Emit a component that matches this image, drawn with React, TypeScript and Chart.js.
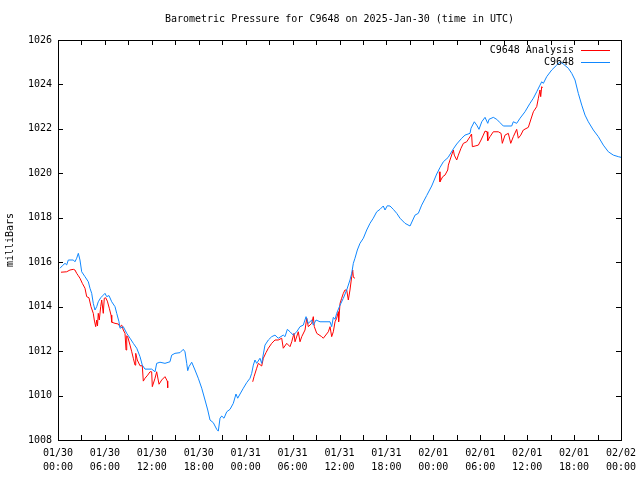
import React, { useEffect, useRef } from 'react';
import { Chart, registerables } from 'chart.js';

Chart.register(...registerables);

const TITLE = 'Barometric Pressure for C9648 on 2025-Jan-30 (time in UTC)';
const Y_TITLE = 'milliBars';
const FONT = '"DejaVu Sans Mono", "Liberation Mono", monospace';

const xTickDates = ['01/30', '01/30', '01/30', '01/30', '01/31', '01/31', '01/31', '01/31', '02/01', '02/01', '02/01', '02/01', '02/02'];
const xTickTimes = ['00:00', '06:00', '12:00', '18:00', '00:00', '06:00', '12:00', '18:00', '00:00', '06:00', '12:00', '18:00', '00:00'];

// hours since 2025-01-30 00:00 UTC
const stationHours = [
  0.26, 0.55, 0.90, 1.11, 1.32, 1.96, 2.17, 2.39, 2.60, 2.81,
  3.03, 3.45, 3.88, 4.09, 4.31, 4.51, 4.73, 4.95, 5.15, 5.46,
  5.79, 6.01, 6.23, 6.52, 6.87, 7.29, 7.51, 7.80, 7.93, 8.35,
  8.79, 9.21, 9.63, 10.07, 10.49, 10.78, 11.13, 11.98, 12.41, 12.62,
  13.04, 13.68, 14.32, 14.54, 14.96, 15.60, 16.02, 16.24, 16.46, 16.59,
  16.75, 17.10, 17.52, 17.94, 18.38, 18.80, 19.15, 19.44, 19.86, 20.08,
  20.30, 20.50, 20.72, 20.94, 21.23, 21.58, 22.00, 22.42, 22.76, 22.98,
  23.28, 23.70, 24.13, 24.56, 24.77, 24.98, 25.19, 25.41, 25.83, 26.05,
  26.47, 26.90, 27.33, 27.75, 28.17, 28.81, 29.03, 29.33, 29.67, 30.09,
  30.53, 30.95, 31.37, 31.72, 32.01, 32.45, 32.65, 33.00, 33.51, 34.79,
  35.00, 35.21, 35.43, 35.64, 36.07, 36.49, 36.92, 37.34, 37.56, 37.77,
  37.98, 38.28, 38.62, 39.05, 39.48, 39.90, 40.32, 40.76, 41.18, 41.60,
  41.82, 42.11, 42.46, 42.88, 43.32, 43.74, 44.38, 45.02, 45.66, 46.08,
  46.51, 47.15, 47.79, 48.43, 48.85, 49.28, 49.88, 50.56, 50.99, 51.63,
  52.05, 52.69, 52.82, 53.24, 53.55, 53.84, 54.19, 54.61, 54.96, 55.12,
  55.67, 56.11, 56.53, 56.95, 58.02, 58.23, 58.66, 59.09, 59.72, 60.36,
  60.79, 61.22, 61.64, 61.86, 62.07, 62.50, 63.14, 63.78, 64.20, 64.62,
  65.26, 65.70, 66.12, 66.54, 66.98, 67.40, 67.82, 68.46, 69.10, 69.74,
  70.38, 71.02, 71.66, 72.00,
];
const stationValues = [
  1015.73, 1015.84, 1015.95, 1015.88, 1016.10, 1016.10, 1016.02, 1016.18, 1016.40, 1016.10,
  1015.57, 1015.35, 1015.12, 1014.83, 1014.60, 1014.15, 1013.85, 1014.00, 1014.22, 1014.40,
  1014.52, 1014.60, 1014.45, 1014.50, 1014.22, 1014.00, 1013.70, 1013.32, 1013.03, 1013.10,
  1012.80, 1012.58, 1012.35, 1012.13, 1011.75, 1011.37, 1011.19, 1011.19, 1011.07, 1011.45,
  1011.50, 1011.45, 1011.52, 1011.82, 1011.90, 1011.93, 1012.08, 1011.97, 1011.45, 1011.12,
  1011.30, 1011.50, 1011.15, 1010.78, 1010.33, 1009.80, 1009.35, 1008.90, 1008.78, 1008.63,
  1008.48, 1008.40, 1008.98, 1009.08, 1008.98, 1009.27, 1009.38, 1009.65, 1010.07, 1009.88,
  1010.07, 1010.33, 1010.58, 1010.78, 1011.00, 1011.37, 1011.60, 1011.45, 1011.68, 1011.45,
  1012.27, 1012.50, 1012.65, 1012.72, 1012.58, 1012.72, 1012.65, 1012.98, 1012.87, 1012.72,
  1012.87, 1013.10, 1013.17, 1013.55, 1013.25, 1013.40, 1013.17, 1013.40, 1013.32, 1013.32,
  1013.10, 1013.52, 1013.43, 1013.70, 1014.07, 1014.38, 1014.75, 1015.20, 1015.50, 1015.95,
  1016.18, 1016.55, 1016.85, 1017.08, 1017.45, 1017.75, 1017.98, 1018.27, 1018.38, 1018.53,
  1018.35, 1018.54, 1018.53, 1018.38, 1018.20, 1017.98, 1017.75, 1017.63, 1018.12, 1018.20,
  1018.57, 1019.00, 1019.43, 1019.97, 1020.26, 1020.52, 1020.71, 1021.10, 1021.32, 1021.58,
  1021.72, 1021.80, 1022.03, 1022.32, 1022.17, 1021.98, 1022.32, 1022.52, 1022.25, 1022.43,
  1022.52, 1022.43, 1022.28, 1022.13, 1022.13, 1022.32, 1022.25, 1022.48, 1022.77, 1023.15,
  1023.38, 1023.67, 1023.97, 1024.12, 1024.05, 1024.35, 1024.65, 1024.87, 1025.02, 1024.92,
  1024.73, 1024.50, 1024.20, 1023.60, 1023.07, 1022.62, 1022.32, 1021.95, 1021.65, 1021.27,
  1020.97, 1020.82, 1020.75, 1020.72,
];

const analysisHours1 = [
  0.38, 1.11, 1.53, 1.96, 2.17, 2.39, 2.60, 2.81, 3.11, 3.45,
  3.67, 3.96, 4.22, 4.51, 4.64, 4.82, 4.95, 5.05, 5.15, 5.28,
  5.46, 5.59, 5.79, 5.92, 6.10, 6.31, 6.56, 6.78, 6.87, 7.29,
  7.71, 7.93, 8.15, 8.35, 8.57, 8.70, 8.79, 8.91, 9.21, 9.43,
  9.63, 9.85, 9.94, 10.14, 10.49, 10.78, 10.91, 11.13, 11.47, 11.77,
  11.98, 12.06, 12.41, 12.62, 12.92, 13.26, 13.68, 13.98, 14.03,
];
const analysisValues1 = [
  1015.55, 1015.57, 1015.65, 1015.68, 1015.65, 1015.50, 1015.39, 1015.28, 1015.05, 1014.83,
  1014.45, 1014.40, 1014.00, 1013.70, 1013.40, 1013.10, 1013.40, 1013.13, 1013.70, 1013.40,
  1014.00, 1014.30, 1013.70, 1014.38, 1014.40, 1014.25, 1013.93, 1013.62, 1013.30, 1013.25,
  1013.22, 1013.10, 1013.17, 1012.95, 1012.80, 1012.05, 1012.69, 1012.65, 1012.27, 1011.97,
  1011.68, 1011.37, 1011.90, 1011.60, 1011.34, 1011.34, 1010.65, 1010.78, 1010.92, 1011.07,
  1011.07, 1010.40, 1010.78, 1011.07, 1010.51, 1010.70, 1010.85, 1010.65, 1010.35,
];
const analysisHours2 = [
  24.90, 25.07, 25.41, 25.62, 26.05, 26.26, 26.60, 26.90, 27.33, 27.75,
  28.17, 28.61, 28.81, 29.25, 29.67, 29.89, 30.18, 30.31, 30.73, 30.95,
  31.17, 31.59, 31.81, 32.01, 32.45, 32.65, 32.78, 33.09, 33.72, 33.93,
  34.57, 34.79, 35.00, 35.21, 35.43, 35.64, 35.85, 35.89, 36.07, 36.28,
  36.49, 36.70, 36.92, 37.13, 37.34, 37.56, 37.69, 37.77, 37.98,
];
const analysisValues2 = [
  1010.62, 1010.85, 1011.23, 1011.45, 1011.33, 1011.68, 1011.93, 1012.13, 1012.35, 1012.50,
  1012.50, 1012.58, 1012.13, 1012.35, 1012.20, 1012.42, 1012.80, 1012.42, 1012.87, 1012.42,
  1012.65, 1012.95, 1013.48, 1013.10, 1013.25, 1013.55, 1013.10, 1012.80, 1012.65, 1012.58,
  1012.87, 1013.10, 1012.65, 1012.87, 1013.32, 1013.48, 1013.77, 1013.32, 1014.15, 1014.38,
  1014.60, 1014.75, 1014.75, 1014.30, 1014.75, 1015.35, 1015.65, 1015.32, 1015.28,
];
const analysisHours3 = [
  48.76, 48.85, 49.20, 49.49, 49.84, 49.92, 50.13, 50.56, 50.68, 50.99,
  51.20, 51.54, 51.84, 52.27, 52.69, 52.89, 52.99, 53.34, 53.76, 54.10,
  54.39, 54.61, 54.87, 54.96, 55.25, 55.67, 56.31, 56.66, 56.82, 57.17,
  57.59, 57.90, 58.23, 58.66, 58.87, 59.18, 59.51, 60.15, 60.45, 60.79,
  61.22, 61.43, 61.64, 61.73, 61.86, 61.94,
];
const analysisValues3 = [
  1020.07, 1019.62, 1019.85, 1019.92, 1020.15, 1020.37, 1020.60, 1021.05, 1020.82, 1020.60,
  1020.82, 1021.13, 1021.35, 1021.42, 1021.65, 1021.77, 1021.20, 1021.23, 1021.27, 1021.50,
  1021.72, 1021.90, 1021.87, 1021.47, 1021.65, 1021.87, 1021.87, 1021.80, 1021.35, 1021.72,
  1021.80, 1021.35, 1021.65, 1021.98, 1021.58, 1021.72, 1021.95, 1022.07, 1022.40, 1022.77,
  1023.00, 1023.38, 1023.75, 1023.45, 1023.90, 1023.84,
];

const ANALYSIS_COLOR = '#ff0000';
const STATION_COLOR = '#0f87ff';

type Pt = { x: number; y: number | null };

function toPoints(hours: number[], values: number[]): Pt[] {
  return hours.map((h, i) => ({ x: h, y: values[i] }));
}

function joinRuns(runs: Pt[][]): Pt[] {
  const out: Pt[] = [];
  runs.forEach((run, i) => {
    if (i > 0) {
      const prev = runs[i - 1];
      out.push({ x: (prev[prev.length - 1].x + run[0].x) / 2, y: null });
    }
    out.push(...run);
  });
  return out;
}

const framePlugin = {
  id: 'gnuFrame',
  afterDraw(chart: any) {
    const { ctx, chartArea: a, scales } = chart;
    ctx.save();
    ctx.strokeStyle = '#000';
    ctx.lineWidth = 1;
    ctx.strokeRect(a.left + 0.5, a.top + 0.5, a.right - a.left, a.bottom - a.top);
    const tl = 5;
    ctx.beginPath();
    scales.x.ticks.forEach((t: any) => {
      const px = Math.round(scales.x.getPixelForValue(t.value)) + 0.5;
      ctx.moveTo(px, a.bottom);
      ctx.lineTo(px, a.bottom - tl);
      ctx.moveTo(px, a.top);
      ctx.lineTo(px, a.top + tl);
    });
    scales.y.ticks.forEach((t: any) => {
      const py = Math.round(scales.y.getPixelForValue(t.value)) + 0.5;
      ctx.moveTo(a.left, py);
      ctx.lineTo(a.left + tl, py);
      ctx.moveTo(a.right, py);
      ctx.lineTo(a.right - tl, py);
    });
    ctx.stroke();

    // title
    ctx.fillStyle = '#000';
    ctx.font = `10px ${FONT}`;
    ctx.textAlign = 'center';
    ctx.textBaseline = 'middle';
    ctx.fillText(TITLE, (a.left + a.right) / 2, 19);

    // key
    const textRight = a.right - 47;
    chart.data.datasets.forEach((ds: any, i: number) => {
      const y = 50.5 + i * 12;
      ctx.textAlign = 'right';
      ctx.fillStyle = '#000';
      ctx.fillText(ds.label, textRight, y);
      ctx.strokeStyle = ds.borderColor;
      ctx.beginPath();
      ctx.moveTo(textRight + 7, y);
      ctx.lineTo(textRight + 36, y);
      ctx.stroke();
    });
    ctx.restore();
  },
};

export default function App() {
  const ref = useRef<HTMLCanvasElement | null>(null);

  useEffect(() => {
    if (!ref.current) return;
    const analysis = joinRuns([
      toPoints(analysisHours1, analysisValues1),
      toPoints(analysisHours2, analysisValues2),
      toPoints(analysisHours3, analysisValues3),
    ]);
    const station = toPoints(stationHours, stationValues);

    const chart = new Chart(ref.current, {
      type: 'line',
      data: {
        datasets: [
          {
            label: 'C9648 Analysis',
            data: analysis as any,
            borderColor: ANALYSIS_COLOR,
            backgroundColor: ANALYSIS_COLOR,
            borderWidth: 1,
            pointRadius: 0,
            tension: 0,
            spanGaps: false,
            order: 2,
          },
          {
            label: 'C9648',
            data: station as any,
            borderColor: STATION_COLOR,
            backgroundColor: STATION_COLOR,
            borderWidth: 1,
            pointRadius: 0,
            tension: 0,
            order: 1,
          },
        ],
      },
      options: {
        responsive: false,
        devicePixelRatio: 1,
        animation: false,
        events: [],
        layout: { padding: { top: 40, right: 19, left: 0, bottom: 0 } },
        plugins: {
          legend: { display: false },
          tooltip: { enabled: false },
          title: { display: false },
        },
        scales: {
          x: {
            type: 'linear',
            min: 0,
            max: 72,
            border: { display: false },
            grid: { display: false, drawTicks: false },
            afterFit: (scale: any) => {
              scale.height = 40;
              scale.paddingLeft = 0;
              scale.paddingRight = 0;
            },
            ticks: {
              stepSize: 3,
              autoSkip: false,
              maxRotation: 0,
              minRotation: 0,
              padding: 6,
              color: '#000',
              font: { family: FONT, size: 10, lineHeight: 1.4 },
              callback: (value: any) => {
                const v = Number(value);
                if (v % 6 !== 0) return '';
                const i = v / 6;
                return [xTickDates[i], xTickTimes[i]];
              },
            },
          },
          y: {
            type: 'linear',
            min: 1008,
            max: 1026,
            border: { display: false },
            grid: { display: false, drawTicks: false },
            afterFit: (scale: any) => {
              scale.width = 58;
            },
            title: {
              display: true,
              text: Y_TITLE,
              color: '#000',
              font: { family: FONT, size: 10, lineHeight: 1.2 },
              padding: { top: 4, bottom: 0 },
            },
            ticks: {
              stepSize: 2,
              padding: 6,
              color: '#000',
              font: { family: FONT, size: 10 },
              callback: (value: any) => String(value),
            },
          },
        },
      },
      plugins: [framePlugin],
    });
    return () => chart.destroy();
  }, []);

  return (
    <div style={{ position: 'absolute', left: 0, top: 0, width: 640, height: 480, background: '#fff' }}>
      <canvas ref={ref} width={640} height={480} style={{ width: 640, height: 480, display: 'block' }} />
    </div>
  );
}
